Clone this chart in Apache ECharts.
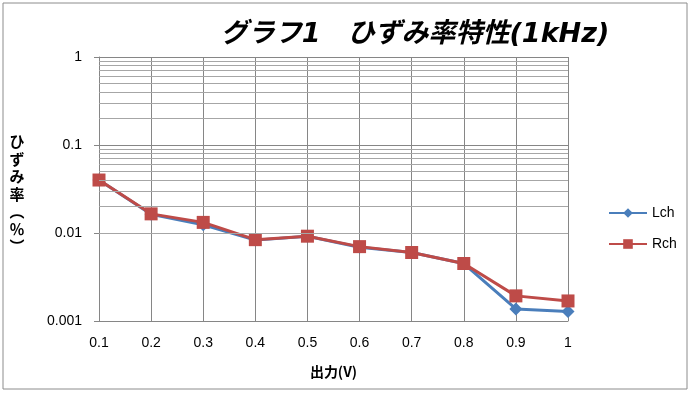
<!DOCTYPE html>
<html>
<head>
<meta charset="utf-8">
<script src="https://cdn.jsdelivr.net/npm/echarts@6/dist/echarts.min.js"></script>
<style>html,body{margin:0;padding:0;background:#fff;}#c{width:691px;height:394px;}</style>
</head>
<body>
<div id="c"></div>
<script>
const categories = ['0.1','0.2','0.3','0.4','0.5','0.6','0.7','0.8','0.9','1'];
const lch = [0.040, 0.0163, 0.0124, 0.0083, 0.0092, 0.0069, 0.0060, 0.0045, 0.00137, 0.00128];
const rch = [0.040, 0.0165, 0.0132, 0.0084, 0.0092, 0.0070, 0.0060, 0.0045, 0.00193, 0.00169];
const minorGridValues = [0.002,0.003,0.004,0.005,0.006,0.007,0.008,0.009,
  0.02,0.03,0.04,0.05,0.06,0.07,0.08,0.09,
  0.2,0.3,0.4,0.5,0.6,0.7,0.8,0.9];

const chart = echarts.init(document.getElementById('c'), null, {renderer:'canvas'});
const lab = 'Liberation Sans';
chart.setOption({
  backgroundColor:'#fff',
  animation:false,
  title:{
    text:'グラフ1　ひずみ率特性(1kHz)',
    left:410, top:16, textAlign:'center',
    textStyle:{fontFamily:'"DejaVu Sans", "Noto Sans CJK JP"', fontSize:27, fontWeight:'bold', fontStyle:'italic', color:'#000'}
  },
  graphic:[
    {type:'rect', shape:{x:3,y:3,width:684,height:386}, style:{fill:'none', stroke:'#8c8c8c', lineWidth:1}, silent:true},
    {type:'text', x:17, y:133, style:{text:'ひ\nず\nみ\n率\n︵\n％\n︶', font:'bold 15px "Noto Sans CJK JP"', lineHeight:17.5, textAlign:'center', fill:'#000'}}
  ],
  legend:{
    data:['Lch','Rch'], orient:'vertical', left:603, top:201, itemGap:17,
    itemWidth:38, itemHeight:12,
    textStyle:{fontFamily:lab, fontSize:14, color:'#000'}
  },
  grid:{left:99, right:123, top:57, bottom:73},
  xAxis:{
    type:'category', data:categories, boundaryGap:false,
    name:'出力(V)', nameLocation:'middle', nameGap:44,
    nameTextStyle:{fontFamily:'Noto Sans CJK JP', fontSize:14, fontWeight:'bold', color:'#000'},
    axisLine:{lineStyle:{color:'#868686'}},
    axisTick:{show:false},
    axisLabel:{fontFamily:lab, fontSize:14, color:'#000', margin:15},
    splitLine:{show:true, lineStyle:{color:'#868686', width:1}}
  },
  yAxis:{
    type:'log', logBase:10, min:0.001, max:1,
    axisLine:{show:true, lineStyle:{color:'#868686'}},
    axisTick:{show:true, inside:false, length:5, lineStyle:{color:'#868686'}},
    axisLabel:{fontFamily:lab, fontSize:14, color:'#000', margin:17,
      formatter:function(v){return String(+v.toPrecision(3));}},
    splitLine:{show:true, lineStyle:{color:'#868686', width:1}}
  },
  series:[
    {name:'minor', type:'line', data:[], silent:true, z:1,
      markLine:{silent:true, symbol:'none', label:{show:false}, animation:false,
        lineStyle:{color:'#a6a6a6', width:1, type:'solid'},
        data:minorGridValues.map(v=>({yAxis:v}))}},
    {name:'Lch', type:'line', data:lch, z:3, color:'#4a7ebb',
      symbol:'diamond', symbolSize:13,
      lineStyle:{width:3, color:'#4a7ebb'}, itemStyle:{color:'#4a7ebb'}},
    {name:'Rch', type:'line', data:rch, z:4, color:'#be4b48',
      symbol:'rect', symbolSize:13,
      lineStyle:{width:3, color:'#be4b48'}, itemStyle:{color:'#be4b48'}}
  ]
});
</script>
</body>
</html>
